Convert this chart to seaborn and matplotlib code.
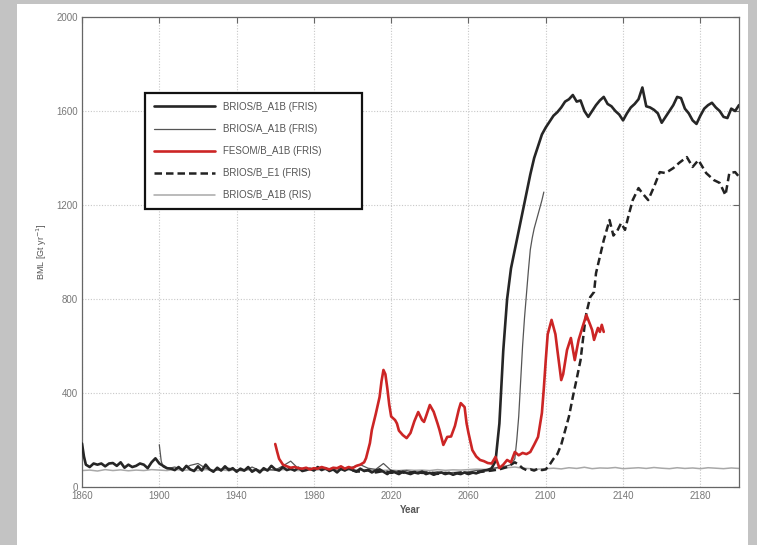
import matplotlib
matplotlib.use("Agg")
import matplotlib.pyplot as plt
import seaborn as sns
import pandas as pd
from matplotlib.patches import Rectangle

# ---------------- data ----------------
yrs_bb = [1860,1861,1862,1864,1866,1868,1870,1872,1874,1876,1878,1880,1882,1884,1886,1888,1890,1892,1894,1896,
          1898,1900,1902,1904,1906,1908,1910,1912,1914,1916,1918,1920,1922,1924,1926,1928,1930,1932,1934,1936,
          1938,1940,1942,1944,1946,1948,1950,1952,1954,1956,1958,1960,1962,1964,1966,1968,1970,1972,1974,1976,
          1978,1980,1982,1984,1986,1988,1990,1992,1994,1996,1998,2000,2002,2004,2006,2008,2010,2012,2014,2016,
          2018,2020,2022,2024,2026,2028,2030,2032,2034,2036,2038,2040,2042,2044,2046,2048,2050,2052,2054,2056,
          2058,2060,2062,2064,2066,2068,2070,2072,2074,2076,2078,2080,2082,2084,2086,2088,2090,2092,2094,2096,
          2098,2100,2102,2104,2106,2108,2110,2112,2114,2116,2118,2120,2122,2124,2126,2128,2130,2132,2134,2136,
          2138,2140,2142,2144,2146,2148,2150,2152,2154,2156,2158,2160,2162,2164,2166,2168,2170,2172,2174,2176,
          2178,2180,2182,2184,2186,2188,2190,2192,2194,2196,2198,2200]
val_bb = [185,130,95,85,100,95,100,88,100,102,90,105,82,95,85,90,100,95,80,105,
          122,100,90,80,78,72,85,70,90,75,68,88,70,95,75,65,82,70,88,72,
          80,65,78,70,85,65,75,62,80,70,90,75,70,85,72,78,70,82,68,72,
          78,70,85,72,80,68,75,62,78,70,80,72,65,78,68,72,62,70,75,65,
          55,68,62,55,65,60,55,62,58,65,55,60,52,58,62,55,60,52,58,55,
          62,55,62,58,65,70,72,80,110,270,580,800,930,1010,1090,1170,1250,1330,1400,1450,
          1500,1530,1555,1580,1595,1615,1640,1650,1668,1640,1645,1600,1575,1600,1625,1645,1660,1630,1620,1600,
          1585,1560,1590,1615,1630,1650,1700,1620,1615,1605,1590,1550,1575,1600,1625,1660,1655,1610,1590,1560,
          1545,1580,1610,1625,1635,1615,1600,1575,1570,1610,1600,1625]

yrs_ba = [1900,1901,1902,1904,1908,1912,1916,1920,1924,1928,1932,1936,1940,1944,1948,1952,1956,1960,1964,1968,
          1972,1976,1980,1984,1988,1992,1996,2000,2004,2008,2012,2016,2020,2024,2028,2032,2036,2040,2044,2048,
          2052,2056,2060,2064,2068,2072,2076,2080,2082,2084,2085,2086,2087,2088,2089,2090,2091,2092,2093,2094,
          2095,2096,2097,2098,2099]
val_ba = [180,110,85,78,85,75,92,100,80,70,75,80,72,68,85,70,75,72,90,110,
          78,80,75,82,70,78,72,85,95,80,75,100,70,65,70,62,68,60,65,58,
          62,60,65,70,72,78,85,90,95,120,200,300,450,600,720,820,920,1010,1060,1100,
          1130,1160,1190,1220,1255]

yrs_fe = [1960,1961,1962,1964,1966,1968,1970,1972,1974,1976,1978,1980,1982,1984,1986,1988,1990,1992,1994,1996,
          1998,2000,2002,2004,2006,2007,2009,2010,2012,2014,2015,2016,2017,2018,2019,2020,2022,2023,2024,2026,
          2028,2030,2032,2034,2036,2037,2038,2040,2042,2044,2045,2047,2049,2051,2053,2055,2056,2058,2059,2060,
          2062,2064,2066,2068,2070,2072,2074,2076,2078,2080,2082,2084,2086,2088,2090,2092,2094,2096,2098,2099,
          2100,2101,2103,2105,2106,2108,2109,2111,2113,2115,2117,2119,2121,2123,2124,2125,2127,2128,2129,2130]
val_fe = [183,150,120,95,88,82,85,80,78,82,75,80,78,85,80,75,82,80,88,78,
          85,80,90,95,105,123,187,243,310,383,450,498,480,420,350,300,285,270,240,221,
          208,230,280,319,285,277,300,349,320,270,243,179,213,215,260,330,357,340,272,230,
          157,130,115,110,102,100,128,81,95,115,105,149,135,145,140,149,180,213,315,420,
          540,650,711,650,583,455,480,583,634,540,626,680,732,690,668,626,677,660,690,660]

yrs_e1 = [2000,2004,2008,2012,2016,2020,2024,2028,2032,2036,2040,2044,2048,2052,2056,2060,2064,2068,2072,2076,
          2080,2082,2084,2086,2088,2090,2092,2094,2096,2098,2100,2102,2104,2106,2108,2110,2112,2114,2116,2118,
          2120,2121,2123,2125,2126,2128,2130,2133,2135,2137,2139,2141,2143,2145,2148,2150,2153,2156,2159,2162,
          2166,2169,2173,2176,2179,2183,2187,2190,2193,2195,2198,2200]
val_e1 = [70,65,72,62,68,60,66,58,64,60,62,56,60,58,62,58,62,66,70,75,
          85,95,105,95,80,72,75,70,78,72,75,95,120,140,180,240,300,383,460,540,
          680,740,808,830,910,980,1050,1136,1070,1090,1123,1094,1160,1221,1272,1250,1221,1277,1340,1336,
          1357,1379,1404,1362,1391,1336,1306,1294,1242,1336,1340,1320]

yrs_ris = [1860,1864,1868,1872,1876,1880,1884,1888,1892,1896,1900,1904,1908,1912,1916,1920,1924,1928,1932,1936,
           1940,1944,1948,1952,1956,1960,1964,1968,1972,1976,1980,1984,1988,1992,1996,2000,2004,2008,2012,2016,
           2020,2024,2028,2032,2036,2040,2044,2048,2052,2056,2060,2064,2068,2072,2076,2080,2084,2088,2092,2096,
           2100,2104,2108,2112,2116,2120,2124,2128,2132,2136,2140,2144,2148,2152,2156,2160,2164,2168,2172,2176,
           2180,2184,2188,2192,2196,2200]
val_ris = [70,72,68,74,70,73,69,72,70,74,72,70,75,71,73,70,74,71,72,70,
           73,71,74,70,72,71,74,72,70,73,71,74,72,70,73,71,72,70,74,71,
           72,70,73,71,72,70,74,71,73,72,74,76,75,78,80,82,85,80,78,76,
           78,80,77,82,79,84,78,81,80,83,78,80,82,79,83,80,78,82,79,81,
           78,82,80,78,81,79]

labels = ["BRIOS/B_A1B (FRIS)", "BRIOS/A_A1B (FRIS)", "FESOM/B_A1B (FRIS)",
          "BRIOS/B_E1 (FRIS)", "BRIOS/B_A1B (RIS)"]
x_ticks = [1860, 1900, 1940, 1980, 2020, 2060, 2100, 2140, 2180]
y_ticks = [0, 400, 800, 1200, 1600, 2000]

# ---------------- figure ----------------
sns.set_style("white")
plt.rcParams['font.family'] = ['Liberation Sans', 'DejaVu Sans']

fig = plt.figure(figsize=(7.57, 5.45), dpi=100)
fig.patch.set_facecolor('#c3c3c3')
fig.add_artist(Rectangle((17/757, 0), (748-17)/757, (545-4)/545, transform=fig.transFigure,
                         facecolor='white', edgecolor='none', zorder=0))
ax = fig.add_axes([82/757, (545-487)/545, (739-82)/757, (487-17)/545])
ax.set_facecolor('white')

df_ris = pd.DataFrame({"Year": yrs_ris, "BML": val_ris})
df_ba = pd.DataFrame({"Year": yrs_ba, "BML": val_ba})
df_e1 = pd.DataFrame({"Year": yrs_e1, "BML": val_e1})
df_bb = pd.DataFrame({"Year": yrs_bb, "BML": val_bb})
df_fe = pd.DataFrame({"Year": yrs_fe, "BML": val_fe})

sns.lineplot(data=df_ris, x="Year", y="BML", ax=ax, color='#a8a8a8', lw=1.1, label=labels[4], zorder=2)
sns.lineplot(data=df_ba, x="Year", y="BML", ax=ax, color='#555555', lw=0.9, label=labels[1], zorder=3)
sns.lineplot(data=df_e1, x="Year", y="BML", ax=ax, color='#222222', lw=1.8, linestyle=(0, (3, 1.6)),
             label=labels[3], zorder=3)
sns.lineplot(data=df_bb, x="Year", y="BML", ax=ax, color='#262626', lw=1.9, label=labels[0], zorder=4)
sns.lineplot(data=df_fe, x="Year", y="BML", ax=ax, color='#cc2525', lw=1.9, label=labels[2], zorder=5)

ax.set_xlim(1860, 2200)
ax.set_ylim(0, 2000)
ax.set_xticks(x_ticks)
ax.set_yticks(y_ticks)
ax.set_xticklabels([str(t) for t in x_ticks])
ax.set_yticklabels([str(t) for t in y_ticks])
ax.tick_params(direction='in', length=4, width=0.8, colors='#666666', labelsize=7,
               top=True, right=True, labelcolor='#777777', pad=3)
ax.grid(True, linestyle=(0, (1, 1.5)), color='#c8c8c8', lw=0.8)
for s in ax.spines.values():
    s.set_color('#666666')
    s.set_linewidth(0.9)

ax.set_xlabel("Year", fontsize=7, fontweight='bold', color='#555555', labelpad=3)
ax.set_ylabel("BML [Gt yr$^{-1}$]", fontsize=6.5, color='#555555', labelpad=5)

h, l = ax.get_legend_handles_labels()
order = [l.index(t) for t in labels]
leg = ax.legend([h[i] for i in order], [l[i] for i in order],
                loc='upper left', bbox_to_anchor=(63/657, 274/470, 217/657, 120/470),
                mode='expand', fontsize=7, handlelength=6.3, handletextpad=0.8,
                labelspacing=1.25, borderpad=0.9, fancybox=False, framealpha=1,
                edgecolor='#111111', borderaxespad=0)
leg.get_frame().set_linewidth(1.6)
for t in leg.get_texts():
    t.set_color('#555555')

fig.savefig("out.png", dpi=100, facecolor=fig.get_facecolor())
